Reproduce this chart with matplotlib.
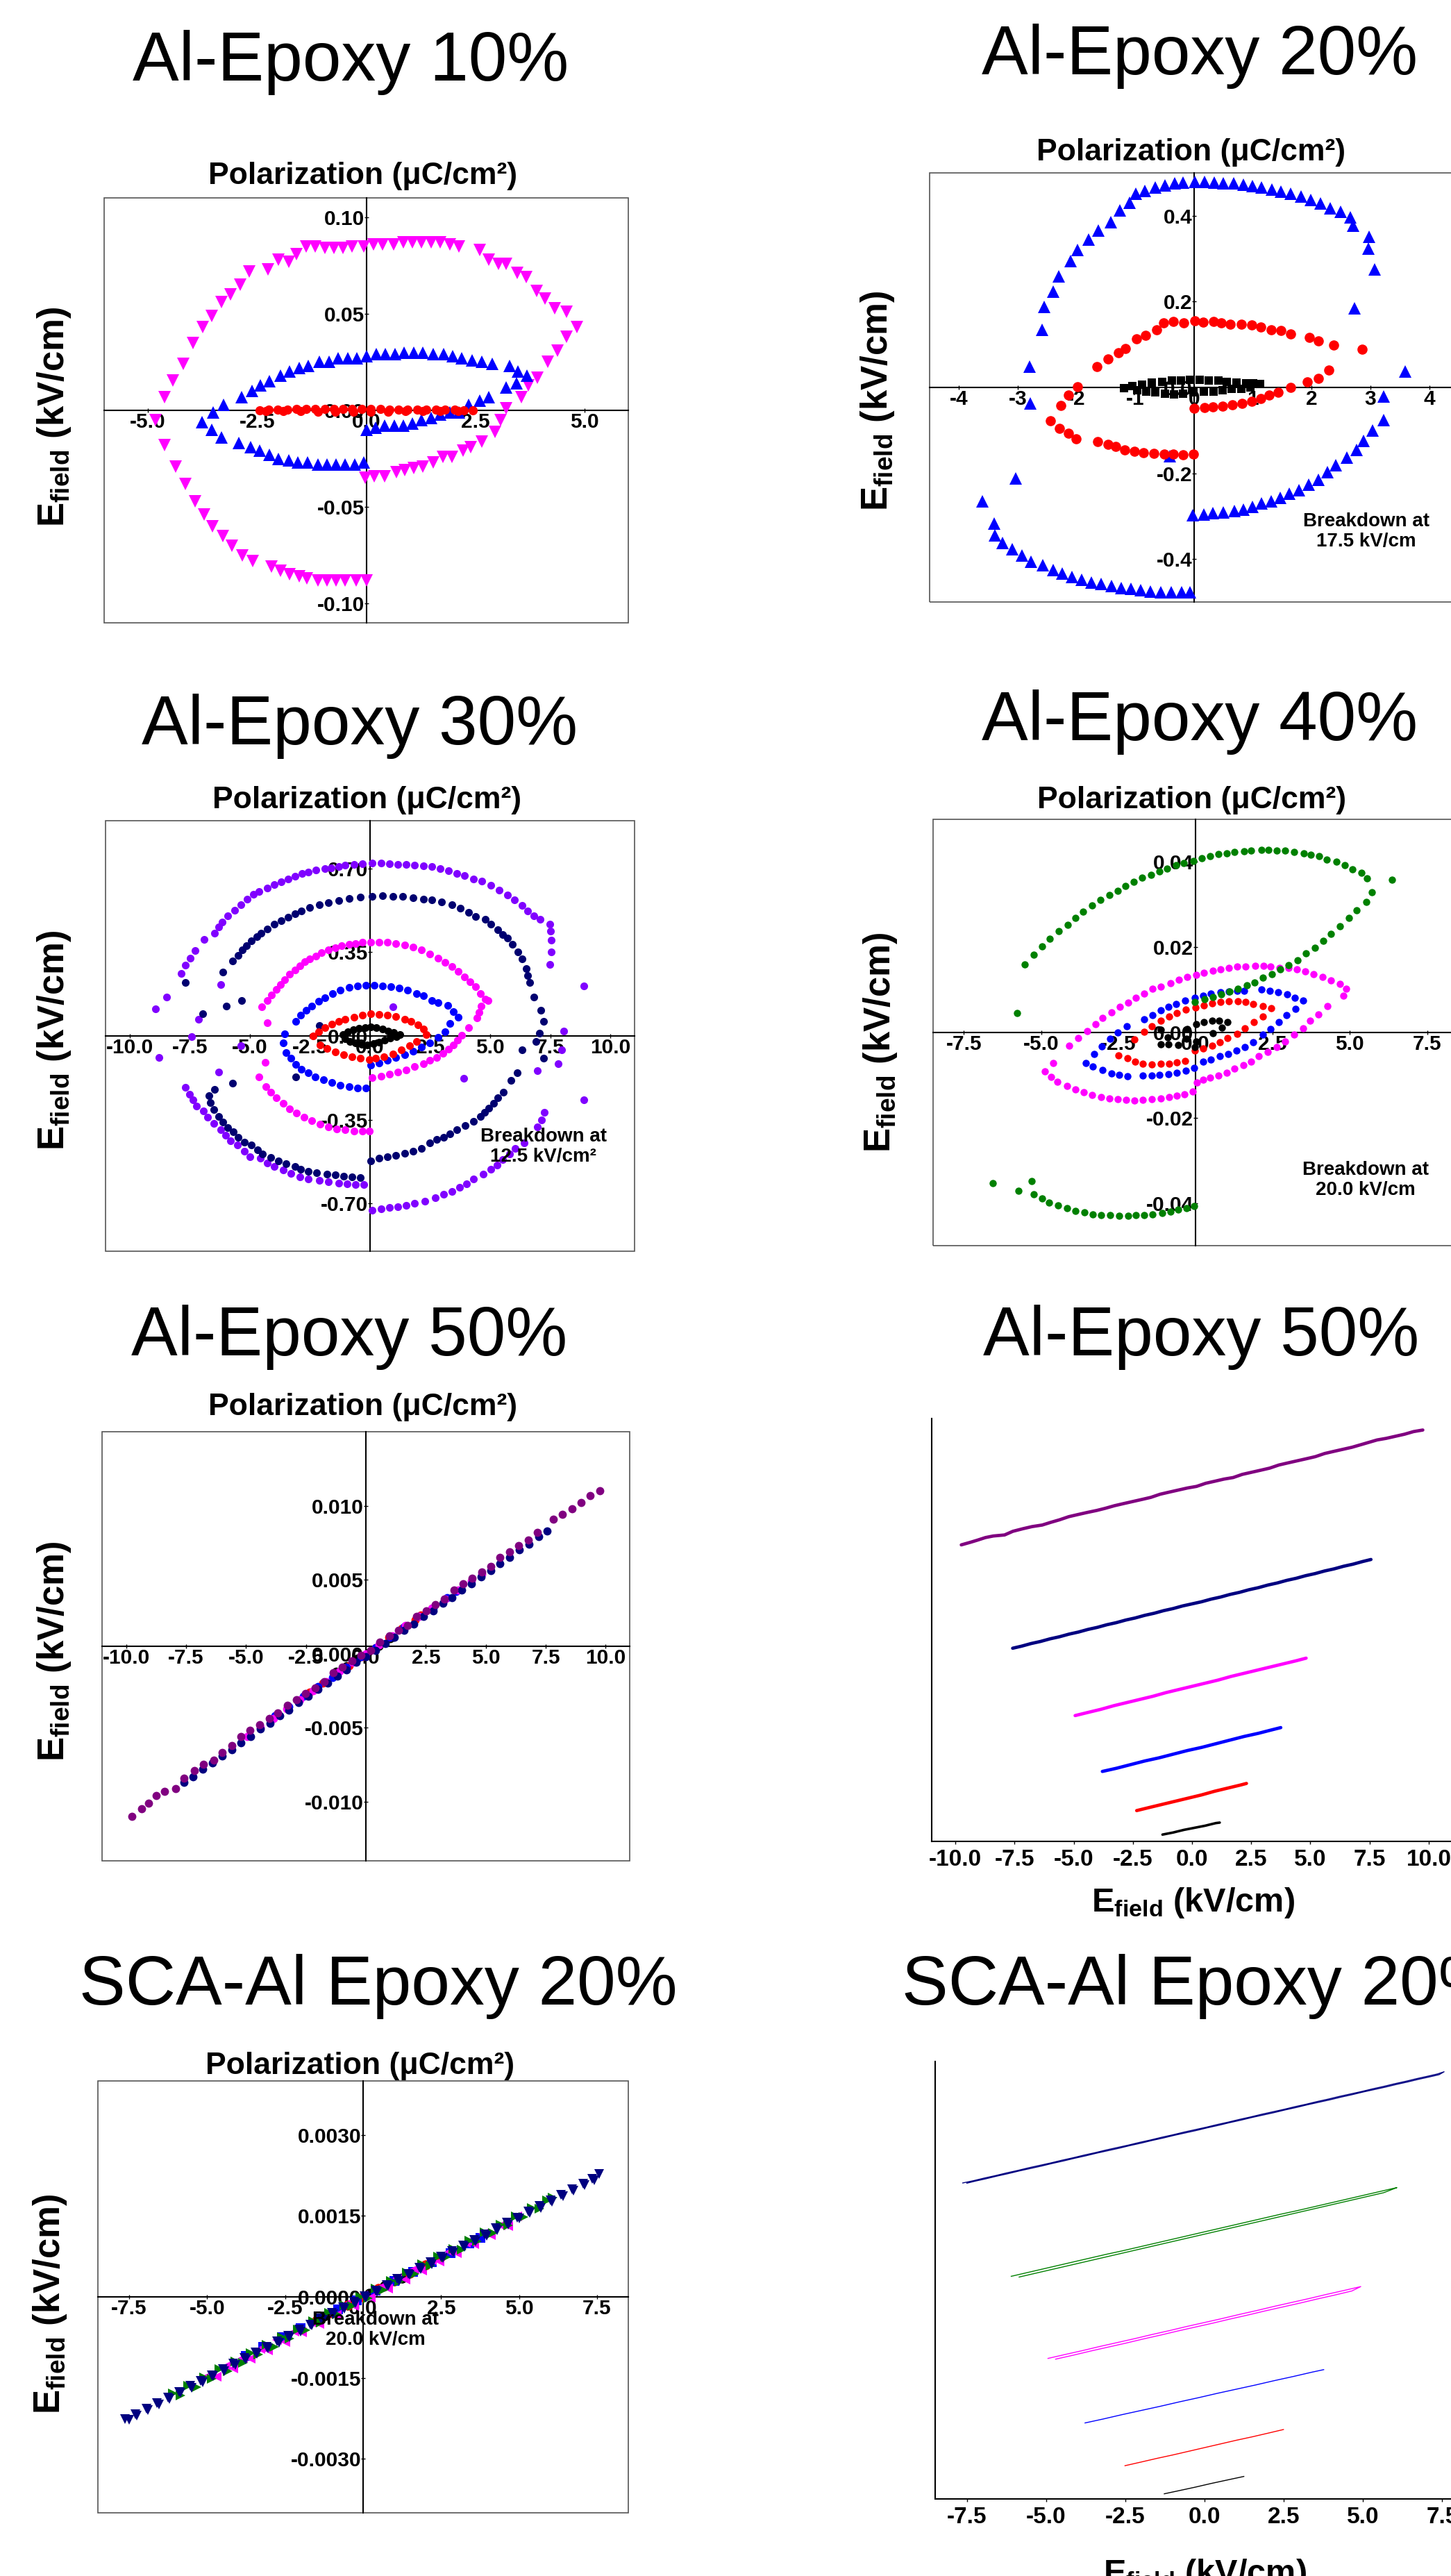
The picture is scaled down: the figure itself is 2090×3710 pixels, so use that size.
import matplotlib
matplotlib.use('Agg')
import matplotlib.pyplot as plt
from matplotlib.patches import Rectangle
from matplotlib.ticker import FormatStrFormatter

plt.rcParams['font.family'] = ['Liberation Sans', 'DejaVu Sans']
plt.rcParams['font.weight'] = 'bold'
plt.rcParams['mathtext.fontset'] = 'custom'
plt.rcParams['mathtext.rm'] = 'Liberation Sans:bold'
plt.rcParams['mathtext.bf'] = 'Liberation Sans:bold'
plt.rcParams['mathtext.it'] = 'Liberation Sans:bold:italic'
plt.rcParams['axes.unicode_minus'] = False

W, H = 2090, 3710

# ---------------- Al-Epoxy 10% ----------------
E10_magenta = [-4.82, -4.61, -4.42, -4.19, -3.97, -3.74, -3.53, -3.31, -3.10, -2.89, -2.68,
               -2.25, -2.01, -1.78, -1.59, -1.38, -1.17, -0.95, -0.74, -0.53, -0.32, -0.05,
               0.16, 0.37, 0.62, 0.85, 1.06, 1.27, 1.48, 1.70, 1.91, 2.12,
               2.60, 2.81, 3.02, 3.21, 3.45, 3.66, 3.90, 4.10, 4.32, 4.58, 4.83,
               4.58, 4.38, 4.16, 3.92, 3.71, 3.55, 3.21, 3.08, 2.95, 2.65, 2.39, 2.21, 1.96,
               1.75, 1.54, 1.29, 1.09, 0.88, 0.69, 0.42, 0.19, -0.02,
               0.0, -0.23, -0.48, -0.69, -0.90, -1.11, -1.36, -1.54, -1.75, -1.96, -2.17,
               -2.60, -2.84, -3.08, -3.29, -3.52, -3.71, -3.92, -4.14, -4.37, -4.61]
P10_magenta = [-0.005, 0.0068, 0.0153, 0.024, 0.035, 0.043, 0.049, 0.056, 0.060, 0.065, 0.072,
               0.073, 0.078, 0.077, 0.081, 0.085, 0.085, 0.084, 0.084, 0.084, 0.085, 0.085,
               0.086, 0.086, 0.086, 0.087, 0.087, 0.087, 0.087, 0.087, 0.086, 0.085,
               0.083, 0.078, 0.076, 0.076, 0.071, 0.069, 0.062, 0.058, 0.053, 0.051, 0.043,
               0.038, 0.031, 0.025, 0.017, 0.013, 0.007, 0.001, -0.005, -0.011, -0.016, -0.019, -0.021, -0.024,
               -0.024, -0.027, -0.029, -0.030, -0.031, -0.032, -0.034, -0.034, -0.035,
               -0.088, -0.088, -0.088, -0.088, -0.088, -0.088, -0.087, -0.086, -0.085, -0.083, -0.081,
               -0.078, -0.075, -0.070, -0.065, -0.060, -0.054, -0.047, -0.038, -0.029, -0.018]
E10_blue = [-3.76, -3.50, -3.26, -2.86, -2.62, -2.42, -2.22, -1.96, -1.75, -1.54,
            -1.32, -1.08, -0.85, -0.64, -0.42, -0.21, 0.0, 0.23, 0.44, 0.66,
            0.87, 1.09, 1.30, 1.54, 1.77, 1.98, 2.19, 2.42, 2.65, 2.88,
            3.28, 3.47, 3.68, 3.44, 3.20, 2.81, 2.60, 2.35, 2.12, 1.91,
            1.69, 1.48, 1.27, 1.06, 0.85, 0.64, 0.42, 0.21, 0.0,
            -0.05, -0.26, -0.48, -0.69, -0.90, -1.11, -1.35, -1.57, -1.78, -2.01,
            -2.22, -2.44, -2.65, -2.91, -3.31, -3.53]
P10_blue = [-0.006, -0.001, 0.003, 0.007, 0.010, 0.013, 0.015, 0.018, 0.020, 0.022,
            0.023, 0.025, 0.025, 0.027, 0.027, 0.027, 0.028, 0.029, 0.029, 0.029,
            0.030, 0.030, 0.030, 0.029, 0.029, 0.028, 0.027, 0.026, 0.025, 0.024,
            0.023, 0.020, 0.018, 0.014, 0.012, 0.007, 0.005, 0.003, -0.001, -0.001,
            -0.002, -0.004, -0.005, -0.007, -0.008, -0.008, -0.008, -0.009, -0.010,
            -0.027, -0.028, -0.028, -0.028, -0.028, -0.028, -0.027, -0.027, -0.026, -0.025,
            -0.023, -0.021, -0.019, -0.017, -0.014, -0.010]
E10_red = [-2.44, -2.23, -2.02, -1.80, -1.59, -1.38, -1.17, -0.95, -0.74, -0.53, -0.32, -0.11,
           0.11, 0.32, 0.53, 0.74, 0.95, 1.17, 1.38, 1.59, 1.80, 2.02, 2.23, 2.44,
           2.10, 1.70, 1.30, 0.90, 0.50, 0.10, -0.30, -0.70, -1.10, -1.50, -1.90, -2.30]
P10_red = [0.0, 0.0003, 0.0004, 0.0005, 0.0006, 0.0006, 0.0007, 0.0007, 0.0007, 0.0007, 0.0007, 0.0006,
           0.0006, 0.0006, 0.0005, 0.0005, 0.0005, 0.0004, 0.0004, 0.0003, 0.0003, 0.0002, 0.0001, 0.0,
           -0.0002, -0.0003, -0.0004, -0.0005, -0.0006, -0.0007, -0.0007, -0.0007, -0.0006, -0.0005, -0.0004, -0.0002]

# ---------------- Al-Epoxy 20% ----------------
E20_blue = [-2.80, -2.59, -2.55, -2.40, -2.30, -2.10, -1.99, -1.79, -1.63, -1.42,
            -1.26, -1.10, -0.99, -0.84, -0.66, -0.50, -0.33, -0.19, 0.01, 0.18,
            0.34, 0.50, 0.67, 0.84, 0.99, 1.15, 1.32, 1.48, 1.64, 1.82,
            1.98, 2.15, 2.31, 2.49, 2.66, 2.70, 2.98, 2.96, 3.07, 2.73,
            3.59, 3.22, 3.22, 3.04, 2.88, 2.76, 2.60, 2.41, 2.27, 2.11,
            1.95, 1.78, 1.62, 1.47, 1.31, 1.15, 0.99, 0.84, 0.68, 0.50,
            0.32, 0.16, -0.02, -0.07, -0.21, -0.39, -0.57, -0.74, -0.91, -1.08,
            -1.24, -1.41, -1.58, -1.75, -1.91, -2.08, -2.25, -2.40, -2.58, -2.77,
            -2.93, -3.09, -3.26, -3.39, -3.40, -3.60, -3.03, -0.41, -2.79]
P20_blue = [0.048, 0.135, 0.187, 0.223, 0.259, 0.294, 0.320, 0.345, 0.366, 0.385,
            0.412, 0.430, 0.452, 0.458, 0.466, 0.471, 0.476, 0.478, 0.479, 0.479,
            0.478, 0.476, 0.476, 0.473, 0.469, 0.466, 0.461, 0.457, 0.452, 0.445,
            0.437, 0.428, 0.418, 0.409, 0.397, 0.377, 0.351, 0.323, 0.275, 0.184,
            0.038, -0.021, -0.076, -0.100, -0.124, -0.145, -0.164, -0.181, -0.198, -0.215,
            -0.226, -0.239, -0.248, -0.258, -0.265, -0.271, -0.279, -0.284, -0.288, -0.291,
            -0.293, -0.296, -0.298, -0.477, -0.477, -0.477, -0.477, -0.475, -0.473, -0.470,
            -0.467, -0.463, -0.458, -0.454, -0.448, -0.441, -0.434, -0.425, -0.415, -0.406,
            -0.392, -0.377, -0.363, -0.344, -0.317, -0.265, -0.212, -0.160, -0.038]
E20_red = [-1.98, -1.65, -1.47, -1.29, -1.17, -0.98, -0.83, -0.64, -0.52, -0.35,
           -0.18, 0.01, 0.15, 0.33, 0.46, 0.62, 0.80, 0.98, 1.13, 1.31,
           1.48, 1.64, 1.96, 2.12, 2.37, 2.86, 2.29, 2.11, 1.93, 1.64,
           1.43, 1.27, 1.13, 0.98, 0.82, 0.65, 0.48, 0.32, 0.18, 0.0,
           -0.01, -0.19, -0.36, -0.51, -0.68, -0.86, -1.01, -1.18, -1.33, -1.47,
           -1.64, -2.01, -2.14, -2.29, -2.45, -2.27, -2.14]
P20_red = [0.001, 0.048, 0.067, 0.081, 0.091, 0.113, 0.121, 0.135, 0.150, 0.153,
           0.151, 0.155, 0.152, 0.154, 0.151, 0.147, 0.147, 0.145, 0.140, 0.135,
           0.133, 0.125, 0.116, 0.108, 0.099, 0.089, 0.040, 0.021, 0.013, 0.0,
           -0.012, -0.018, -0.026, -0.032, -0.037, -0.040, -0.043, -0.046, -0.047, -0.049,
           -0.156, -0.157, -0.156, -0.156, -0.154, -0.152, -0.149, -0.145, -0.138, -0.133,
           -0.126, -0.119, -0.106, -0.096, -0.077, -0.042, -0.018]
E20_black = [-1.19, -1.05, -0.89, -0.72, -0.54, -0.38, -0.22, -0.07, 0.09, 0.25,
             0.41, 0.56, 0.72, 0.88, 1.00, 1.12, 0.96, 0.80, 0.64, 0.48,
             0.33, 0.17, -0.01, -0.19, -0.34, -0.50, -0.66, -0.82, -0.97]
P20_black = [-0.002, 0.004, 0.006, 0.011, 0.013, 0.016, 0.016, 0.017, 0.017, 0.016,
             0.016, 0.013, 0.011, 0.009, 0.009, 0.008, 0.0, -0.003, -0.004, -0.007,
             -0.009, -0.010, -0.012, -0.015, -0.016, -0.015, -0.012, -0.010, -0.007]

# ---------------- Al-Epoxy 30% ----------------
E30_purple = [-8.92, -8.47, -7.84, -7.67, -7.49, -7.28, -6.90, -6.46, -6.29, -6.15,
              -5.91, -5.63, -5.38, -5.10, -4.85, -4.61, -4.26, -3.97, -3.69, -3.41,
              -3.13, -2.82, -2.57, -2.26, -1.87, -1.62, -1.31, -1.03, -0.67, -0.32,
              0.10, 0.45, 0.80, 1.15, 1.50, 1.85, 2.21, 2.56, 2.91, 3.26,
              3.61, 3.92, 4.31, 4.66, 5.01, 5.37, 5.72, 6.00, 6.31, 6.56,
              6.82, 7.08, 7.47, 7.51, 7.54, 7.54, 7.47, 8.88, 8.05, 7.96,
              7.82, 6.95, 8.88, 7.26, 7.12, 6.95, 6.42, 6.04, 5.79, 5.51,
              5.27, 5.01, 4.71, 4.31, 4.00, 3.72, 3.40, 3.05, 2.70, 2.28,
              1.85, 1.50, 1.15, 0.80, 0.45, 0.10, -0.25, -0.60, -0.96, -1.31,
              -1.73, -2.12, -2.57, -2.92, -3.30, -3.62, -3.97, -4.28, -4.56, -4.99,
              -5.24, -5.52, -5.80, -6.01, -6.22, -6.50, -6.76, -6.92, -7.23, -7.37,
              -7.51, -7.67, -6.29, -8.79, -7.42, -7.13, -6.22, 0.94, 3.89, -5.38]
P30_purple = [0.113, 0.163, 0.262, 0.295, 0.325, 0.356, 0.405, 0.431, 0.457, 0.477,
              0.502, 0.525, 0.548, 0.571, 0.591, 0.603, 0.617, 0.632, 0.644, 0.655,
              0.667, 0.678, 0.686, 0.695, 0.699, 0.703, 0.707, 0.713, 0.718, 0.721,
              0.722, 0.722, 0.721, 0.718, 0.716, 0.715, 0.710, 0.709, 0.701, 0.692,
              0.680, 0.670, 0.655, 0.646, 0.629, 0.609, 0.589, 0.569, 0.546, 0.523,
              0.502, 0.489, 0.466, 0.439, 0.400, 0.351, 0.299, 0.209, 0.020, -0.057,
              -0.115, -0.146, -0.267, -0.320, -0.351, -0.379, -0.448, -0.471, -0.494, -0.517,
              -0.540, -0.557, -0.577, -0.598, -0.618, -0.632, -0.649, -0.661, -0.676, -0.690,
              -0.699, -0.707, -0.713, -0.718, -0.724, -0.730, -0.621, -0.621, -0.618, -0.615,
              -0.611, -0.603, -0.598, -0.589, -0.575, -0.561, -0.546, -0.532, -0.511, -0.506,
              -0.483, -0.457, -0.437, -0.414, -0.391, -0.366, -0.339, -0.314, -0.293, -0.268,
              -0.244, -0.215, -0.152, -0.089, -0.002, 0.071, 0.216, 0.121, -0.178, -0.040]
E30_navy = [-7.67, -6.97, -6.11, -5.73, -5.49, -5.31, -5.13, -4.93, -4.72, -4.54,
            -4.28, -3.97, -3.69, -3.41, -3.13, -2.85, -2.50, -2.12, -1.73, -1.31,
            -0.88, -0.39, 0.10, 0.52, 0.94, 1.36, 1.78, 2.21, 2.56, 2.98,
            3.40, 3.75, 4.10, 4.38, 4.78, 5.01, 5.30, 5.51, 5.72, 5.93,
            6.14, 6.31, 6.49, 6.56, 6.63, 6.81, 7.09, 7.23, 7.05, 6.91,
            6.31, 7.23, 6.11, 5.86, 5.55, 5.32, 5.13, 4.94, 4.76, 4.59,
            4.31, 3.96, 3.61, 3.33, 3.05, 2.77, 2.49, 2.13, 1.78, 1.43,
            1.08, 0.73, 0.38, 0.03, -0.39, -0.74, -1.10, -1.45, -1.80, -2.22,
            -2.57, -2.88, -3.13, -3.48, -3.81, -4.12, -4.47, -4.68, -4.93, -5.24,
            -5.49, -5.69, -5.91, -6.11, -6.29, -6.50, -6.64, -6.69, -6.47, -5.73,
            -3.09, -2.12, -5.97, -5.34]
P30_navy = [0.224, 0.094, 0.267, 0.313, 0.336, 0.359, 0.377, 0.397, 0.414, 0.431,
            0.446, 0.466, 0.483, 0.497, 0.511, 0.523, 0.537, 0.548, 0.557, 0.567,
            0.575, 0.580, 0.584, 0.586, 0.584, 0.583, 0.578, 0.572, 0.569, 0.561,
            0.549, 0.534, 0.517, 0.500, 0.489, 0.466, 0.445, 0.425, 0.408, 0.382,
            0.351, 0.322, 0.282, 0.253, 0.224, 0.164, 0.106, 0.060, 0.011, -0.023,
            -0.057, -0.092, -0.155, -0.186, -0.236, -0.259, -0.282, -0.302, -0.320, -0.337,
            -0.356, -0.374, -0.391, -0.408, -0.423, -0.434, -0.448, -0.471, -0.483, -0.491,
            -0.498, -0.506, -0.511, -0.523, -0.592, -0.590, -0.586, -0.580, -0.577, -0.572,
            -0.566, -0.557, -0.546, -0.534, -0.523, -0.508, -0.494, -0.477, -0.457, -0.443,
            -0.423, -0.402, -0.383, -0.360, -0.337, -0.308, -0.278, -0.251, -0.224, -0.198,
            -0.172, 0.043, 0.124, 0.149]
E30_magenta = [-4.49, -4.26, -4.28, -4.09, -3.90, -3.72, -3.55, -3.34, -3.13, -2.92,
               -2.71, -2.50, -2.26, -2.01, -1.73, -1.45, -1.17, -0.88, -0.60, -0.32,
               0.03, 0.38, 0.73, 1.08, 1.43, 1.78, 2.13, 2.49, 2.84, 3.12,
               3.40, 3.68, 3.92, 4.17, 4.38, 4.59, 4.78, 4.92, 4.62, 4.52,
               4.45, 4.10, 3.82, 3.64, 3.47, 3.26, 3.02, 2.77, 2.49, 2.21,
               1.85, 1.50, 1.15, 0.80, 0.45, 0.10, -0.04, -0.32, -0.67, -1.03,
               -1.38, -1.73, -2.08, -2.43, -2.74, -3.06, -3.34, -3.62, -3.90, -4.12,
               -4.33, -4.61, -4.37]
P30_magenta = [0.121, 0.054, 0.147, 0.172, 0.195, 0.215, 0.236, 0.259, 0.276, 0.293,
               0.310, 0.322, 0.333, 0.347, 0.359, 0.368, 0.377, 0.383, 0.387, 0.391,
               0.393, 0.393, 0.391, 0.387, 0.379, 0.371, 0.359, 0.343, 0.325, 0.307,
               0.290, 0.270, 0.247, 0.226, 0.207, 0.178, 0.155, 0.149, 0.124, 0.098,
               0.075, 0.034, 0.002, -0.017, -0.037, -0.055, -0.072, -0.090, -0.103, -0.115,
               -0.129, -0.141, -0.152, -0.161, -0.167, -0.175, -0.397, -0.397, -0.397, -0.393,
               -0.389, -0.379, -0.368, -0.354, -0.339, -0.322, -0.305, -0.282, -0.259, -0.236,
               -0.213, -0.170, -0.111]
E30_blue = [-3.55, -3.09, -2.88, -2.67, -2.43, -2.15, -1.87, -1.56, -1.24, -0.88,
            -0.53, -0.18, 0.17, 0.52, 0.87, 1.22, 1.57, 1.92, 2.23, 2.56,
            2.84, 3.22, 3.47, 3.68, 3.33, 3.12, 2.84, 2.49, 2.13, 1.78,
            1.43, 1.08, 0.73, 0.38, 0.03, -0.18, -0.53, -0.88, -1.24, -1.59,
            -1.94, -2.29, -2.57, -2.85, -3.09, -3.30, -3.48, -3.62]
P30_blue = [0.009, 0.061, 0.086, 0.106, 0.126, 0.144, 0.161, 0.178, 0.193, 0.203,
            0.210, 0.213, 0.213, 0.210, 0.207, 0.201, 0.192, 0.178, 0.167, 0.149,
            0.138, 0.129, 0.103, 0.078, 0.052, 0.017, -0.006, -0.029, -0.046, -0.063,
            -0.078, -0.090, -0.101, -0.113, -0.121, -0.218, -0.218, -0.213, -0.205, -0.195,
            -0.184, -0.170, -0.155, -0.138, -0.118, -0.094, -0.069, -0.029]
E30_red = [-2.36, -2.15, -1.87, -1.59, -1.31, -1.03, -0.67, -0.32, 0.03, 0.38,
           0.73, 1.08, 1.43, 1.71, 2.00, 2.21, 2.35, 1.92, 1.64, 1.29,
           0.94, 0.59, 0.24, -0.04, -0.39, -0.74, -1.10, -1.45, -1.80, -2.08]
P30_red = [0.0, 0.017, 0.034, 0.048, 0.060, 0.069, 0.078, 0.086, 0.092, 0.090,
           0.086, 0.080, 0.071, 0.060, 0.046, 0.029, 0.006, -0.023, -0.040, -0.057,
           -0.075, -0.086, -0.094, -0.098, -0.092, -0.086, -0.078, -0.067, -0.052, -0.037]
E30_black = [-1.13, -0.93, -0.69, -0.45, -0.21, 0.03, 0.27, 0.51, 0.75, 0.99, 1.23,
             1.09, 0.85, 0.61, 0.37, 0.13, -0.12, -0.36, -0.60, -0.84, -1.03]
P30_black = [0.007, 0.016, 0.026, 0.031, 0.036, 0.039, 0.036, 0.029, 0.021, 0.014, 0.007,
             -0.003, -0.010, -0.017, -0.025, -0.032, -0.037, -0.035, -0.029, -0.022, -0.013]

# ---------------- Al-Epoxy 40% ----------------
E40_green = [-5.54, -5.25, -4.98, -4.72, -4.42, -4.13, -3.90, -3.64, -3.35, -3.07,
             -2.79, -2.52, -2.26, -2.01, -1.74, -1.45, -1.18, -0.92, -0.64, -0.39,
             -0.06, 0.21, 0.48, 0.74, 1.01, 1.27, 1.57, 1.81, 2.13, 2.37,
             2.64, 2.91, 3.20, 3.50, 3.74, 4.00, 4.25, 4.57, 4.84, 5.08,
             5.37, 5.56, 6.36, 5.72, 5.53, 5.21, 4.97, 4.67, 4.39, 4.14,
             3.87, 3.58, 3.30, 3.02, 2.75, 2.48, 2.18, 1.91, 1.66, 1.38,
             1.11, 0.84, 0.56, 0.29, -0.03, -5.78, -6.56, -5.73, -5.30, -5.24,
             -4.98, -4.74, -4.45, -4.17, -3.88, -3.59, -3.33, -3.05, -2.76, -2.47,
             -2.19, -1.94, -1.66, -1.40, -1.07, -0.81, -0.57, -0.30, -0.05]
P40_green = [0.0159, 0.0182, 0.0202, 0.0220, 0.0237, 0.0253, 0.0269, 0.0284, 0.0298, 0.0311,
             0.0322, 0.0333, 0.0344, 0.0353, 0.0363, 0.0370, 0.0378, 0.0385, 0.0392, 0.0398,
             0.0403, 0.0408, 0.0414, 0.0418, 0.0421, 0.0423, 0.0425, 0.0427, 0.0429, 0.0429,
             0.0427, 0.0427, 0.0424, 0.0421, 0.0417, 0.0413, 0.0406, 0.0401, 0.0392, 0.0383,
             0.0374, 0.0362, 0.0358, 0.0329, 0.0307, 0.0287, 0.0268, 0.0249, 0.0231, 0.0215,
             0.0199, 0.0185, 0.0170, 0.0158, 0.0148, 0.0136, 0.0128, 0.0117, 0.0110, 0.0102,
             0.0096, 0.0089, 0.0083, 0.0078, 0.0071, 0.0046, -0.0353, -0.0372, -0.0349, -0.0379,
             -0.0389, -0.0399, -0.0406, -0.0412, -0.0418, -0.0422, -0.0426, -0.0428, -0.0429, -0.0430,
             -0.0430, -0.0429, -0.0428, -0.0426, -0.0424, -0.0420, -0.0416, -0.0412, -0.0407]
E40_magenta = [-4.88, -4.61, -4.10, -3.80, -3.51, -3.24, -3.01, -2.71, -2.44, -2.19,
               -1.93, -1.67, -1.40, -1.12, -0.81, -0.55, -0.27, 0.02, 0.27, 0.56,
               0.82, 1.09, 1.36, 1.63, 1.93, 2.21, 2.43, 2.73, 3.02, 3.28,
               3.55, 3.82, 4.11, 4.39, 4.67, 4.89, 4.78, 4.28, 3.98, 3.71,
               3.48, 3.20, 2.91, 2.64, 2.34, 2.05, 1.81, 1.55, 1.27, 1.02,
               0.74, 0.48, 0.24, 0.04, -0.09, -0.35, -0.60, -0.86, -1.13, -1.42,
               -1.71, -1.98, -2.25, -2.51, -2.78, -3.06, -3.35, -3.61, -3.88, -4.15,
               -4.47, -4.68]
P40_magenta = [-0.0091, -0.0071, -0.0031, -0.0013, 0.0004, 0.0020, 0.0034, 0.0047, 0.0060, 0.0070,
               0.0081, 0.0092, 0.0102, 0.0108, 0.0116, 0.0124, 0.0130, 0.0135, 0.0140, 0.0145,
               0.0149, 0.0152, 0.0154, 0.0154, 0.0156, 0.0156, 0.0154, 0.0152, 0.0151, 0.0148,
               0.0143, 0.0137, 0.0130, 0.0122, 0.0114, 0.0102, 0.0086, 0.0062, 0.0043, 0.0027,
               0.0010, -0.0005, -0.0021, -0.0034, -0.0045, -0.0056, -0.0068, -0.0077, -0.0085, -0.0094,
               -0.0101, -0.0106, -0.0110, -0.0117, -0.0139, -0.0145, -0.0149, -0.0152, -0.0155, -0.0156,
               -0.0158, -0.0159, -0.0158, -0.0156, -0.0155, -0.0152, -0.0147, -0.0140, -0.0133, -0.0125,
               -0.0115, -0.0105]
E40_blue = [-3.56, -3.29, -3.03, -2.76, -2.51, -2.22, -1.66, -1.40, -1.13, -0.87,
            -0.62, -0.33, -0.03, 0.24, 0.50, 0.80, 1.09, 1.34, 1.57, 2.13,
            2.40, 2.67, 2.96, 3.21, 3.48, 3.23, 2.94, 2.70, 2.43, 2.18,
            1.87, 1.59, 1.33, 1.06, 0.78, 0.50, 0.24, -0.05, -0.32, -0.60,
            -0.87, -1.16, -1.42, -1.72, -2.20, -2.47, -2.73, -3.01, -3.32]
P40_blue = [-0.0071, -0.0051, -0.0032, -0.0015, 0.0000, 0.0014, 0.0031, 0.0041, 0.0052, 0.0060,
            0.0067, 0.0075, 0.0081, 0.0087, 0.0091, 0.0094, 0.0096, 0.0097, 0.0097, 0.0101,
            0.0098, 0.0094, 0.0089, 0.0081, 0.0075, 0.0055, 0.0040, 0.0024, 0.0008, -0.0005,
            -0.0023, -0.0034, -0.0042, -0.0050, -0.0056, -0.0063, -0.0069, -0.0083, -0.0089, -0.0094,
            -0.0098, -0.0099, -0.0101, -0.0101, -0.0103, -0.0099, -0.0096, -0.0088, -0.0080]
E40_red = [-1.98, -1.67, -1.42, -1.12, -0.86, -0.60, -0.32, 0.00, 0.27, 0.53,
           0.82, 1.09, 1.38, 1.63, 1.86, 2.18, 2.45, 2.18, 1.89, 1.59,
           1.34, 1.04, 0.78, 0.53, 0.24, -0.03, -0.33, -0.60, -0.86, -1.13,
           -1.42, -1.71, -1.96, -2.20, -2.49]
P40_red = [-0.0017, 0.0001, 0.0014, 0.0027, 0.0038, 0.0046, 0.0054, 0.0059, 0.0064, 0.0068,
           0.0071, 0.0073, 0.0073, 0.0071, 0.0067, 0.0062, 0.0057, 0.0038, 0.0024, 0.0009,
           -0.0003, -0.0013, -0.0023, -0.0031, -0.0037, -0.0043, -0.0066, -0.0070, -0.0073, -0.0074,
           -0.0075, -0.0073, -0.0069, -0.0061, -0.0053]
E40_black = [-1.12, -0.89, -0.87, -1.12, -0.57, -0.30, -0.27, 0.02, 0.27, 0.53, 0.77, 1.04, 0.86, 0.56, 0.02, -0.03]
P40_black = [0.0006, -0.0011, -0.0027, -0.0027, -0.0029, -0.0015, 0.0008, 0.0020, 0.0025, 0.0028,
             0.0027, 0.0025, 0.0011, -0.0002, -0.0021, -0.0034]

# ---------------- Al-Epoxy 50% (scatter + stacked traces) ----------------
E50_purple = [-9.75, -9.36, -9.07, -8.73, -8.40, -7.92, -7.57, -7.14, -6.76, -6.33,
              -5.98, -5.60, -5.21, -4.83, -4.44, -4.02, -3.67, -3.28, -2.90, -2.51,
              -2.12, -1.74, -1.35, -0.97, -0.58, -0.19, 0.19, 0.58, 0.97, 1.35,
              1.74, 2.12, 2.51, 2.90, 3.28, 3.67, 4.05, 4.44, 4.83, 5.21,
              5.60, 5.98, 6.37, 6.76, 7.14, 7.82, 8.20, 8.59, 8.98, 9.36, 9.75]
P50_purple = [-0.0110, -0.0105, -0.0101, -0.0096, -0.0093, -0.0091, -0.0084, -0.0079, -0.0075, -0.0072,
              -0.0067, -0.0062, -0.0056, -0.0052, -0.0048, -0.0044, -0.0040, -0.0035, -0.0031, -0.0027,
              -0.0023, -0.0019, -0.0013, -0.0009, -0.0005, -0.0001, 0.0002, 0.0008, 0.0012, 0.0016,
              0.0019, 0.0025, 0.0029, 0.0033, 0.0037, 0.0043, 0.0047, 0.0051, 0.0055, 0.0059,
              0.0065, 0.0069, 0.0073, 0.0077, 0.0082, 0.0091, 0.0094, 0.0098, 0.0102, 0.0107, 0.0110]
E50_navy = [-7.58, -7.20, -6.80, -6.40, -6.00, -5.60, -5.20, -4.80, -4.40, -4.00,
            -3.60, -3.20, -2.80, -2.40, -2.00, -1.60, -1.20, -0.80, -0.40, 0.00,
            0.40, 0.80, 1.20, 1.60, 2.00, 2.40, 2.80, 3.20, 3.60, 4.00,
            4.40, 4.80, 5.20, 5.60, 6.00, 6.40, 6.80, 7.20, 7.56]
P50_navy = [-0.0087, -0.0083, -0.0078, -0.0074, -0.0069, -0.0065, -0.0060, -0.0056, -0.0051, -0.0047,
            -0.0042, -0.0038, -0.0033, -0.0029, -0.0024, -0.0020, -0.0015, -0.0011, -0.0006, -0.0002,
            0.0002, 0.0007, 0.0011, 0.0016, 0.0020, 0.0025, 0.0029, 0.0034, 0.0038, 0.0043,
            0.0047, 0.0052, 0.0056, 0.0061, 0.0065, 0.0070, 0.0074, 0.0079, 0.0083]
E50_magenta = [-4.94, -4.40, -3.85, -3.30, -2.75, -2.20, -1.65, -1.10, -0.55, 0.00,
               0.55, 1.10, 1.65, 2.20, 2.75, 3.30, 3.85, 4.40, 4.82]
P50_magenta = [-0.0056, -0.0050, -0.0044, -0.0037, -0.0031, -0.0025, -0.0019, -0.0012, -0.0006, 0.0000,
               0.0006, 0.0012, 0.0019, 0.0025, 0.0031, 0.0037, 0.0043, 0.0049, 0.0054]
E50_blue = [-3.79, -3.20, -2.60, -2.00, -1.40, -0.80, -0.20, 0.40, 1.00, 1.60, 2.20, 2.80, 3.40, 3.75]
P50_blue = [-0.0042, -0.0036, -0.0029, -0.0022, -0.0016, -0.0009, -0.0002, 0.0004, 0.0011, 0.0018,
            0.0025, 0.0031, 0.0038, 0.0042]
E50_red = [-2.34, -1.80, -1.25, -0.70, -0.15, 0.40, 0.95, 1.50, 2.05, 2.30]
P50_red = [-0.0026, -0.0020, -0.0014, -0.0008, -0.0002, 0.0004, 0.0011, 0.0017, 0.0023, 0.0026]
E50_black = [-1.25, -0.80, -0.35, 0.10, 0.55, 1.00, 1.17]
P50_black = [-0.0012, -0.0008, -0.0003, 0.0001, 0.0005, 0.0010, 0.0011]
# vertical offsets used to stack the 50% traces
OFF50 = {'black': 0.0025, 'red': 0.0085, 'blue': 0.0176,
         'magenta': 0.0297, 'navy': 0.0457, 'purple': 0.0678}

# ---------------- SCA-Al Epoxy 20% (scatter + stacked traces) ----------------
Esca_navy = [-7.63, -7.30, -6.95, -6.60, -6.25, -5.90, -5.55, -5.20, -4.85, -4.50,
             -4.15, -3.80, -3.45, -3.10, -2.75, -2.40, -2.05, -1.70, -1.35, -1.00,
             -0.65, -0.30, 0.05, 0.40, 0.75, 1.10, 1.45, 1.80, 2.15, 2.50,
             2.85, 3.20, 3.55, 3.90, 4.25, 4.60, 4.95, 5.30, 5.65, 6.00,
             6.35, 6.70, 7.05, 7.35, 7.56,
             7.40, 7.10, 6.75, 6.40, 6.05, 5.70, 5.35, 5.00, 4.65, 4.30,
             3.95, 3.60, 3.25, 2.90, 2.55, 2.20, 1.85, 1.50, 1.15, 0.80,
             0.45, 0.10, -0.25, -0.60, -0.95, -1.30, -1.65, -2.00, -2.35, -2.70,
             -3.05, -3.40, -3.75, -4.10, -4.45, -4.80, -5.15, -5.50, -5.85, -6.20,
             -6.55, -6.90, -7.25, -7.50]
Psca_navy = [-0.00227, -0.00218, -0.00207, -0.00197, -0.00186, -0.00176, -0.00165, -0.00155, -0.00145, -0.00134,
             -0.00124, -0.00113, -0.00103, -0.00092, -0.00082, -0.00072, -0.00061, -0.00051, -0.00040, -0.00030,
             -0.00019, -0.00009, 0.00001, 0.00012, 0.00022, 0.00033, 0.00043, 0.00054, 0.00064, 0.00074,
             0.00085, 0.00095, 0.00106, 0.00116, 0.00127, 0.00137, 0.00147, 0.00158, 0.00168, 0.00179,
             0.00189, 0.00200, 0.00210, 0.00219, 0.00228,
             0.00216, 0.00207, 0.00197, 0.00186, 0.00176, 0.00165, 0.00155, 0.00145, 0.00134, 0.00124,
             0.00113, 0.00103, 0.00093, 0.00082, 0.00072, 0.00061, 0.00051, 0.00041, 0.00030, 0.00020,
             0.00009, -0.00001, -0.00012, -0.00022, -0.00032, -0.00043, -0.00053, -0.00064, -0.00074, -0.00085,
             -0.00095, -0.00105, -0.00116, -0.00126, -0.00137, -0.00147, -0.00158, -0.00168, -0.00178, -0.00189,
             -0.00199, -0.00210, -0.00220, -0.00228]
Esca_green = [-6.10, -5.60, -5.10, -4.60, -4.10, -3.60, -3.10, -2.60, -2.10, -1.60,
              -1.10, -0.60, -0.10, 0.40, 0.90, 1.40, 1.90, 2.40, 2.90, 3.40,
              3.90, 4.40, 4.90, 5.40, 5.90, 6.07,
              5.65, 5.15, 4.65, 4.15, 3.65, 3.15, 2.65, 2.15, 1.65, 1.15,
              0.65, 0.15, -0.35, -0.85, -1.35, -1.85, -2.35, -2.85, -3.35, -3.85,
              -4.35, -4.85, -5.35, -5.85]
Psca_green = [-0.00179, -0.00164, -0.00149, -0.00134, -0.00119, -0.00104, -0.00089, -0.00075, -0.00060, -0.00045,
              -0.00030, -0.00015, 0.00000, 0.00015, 0.00030, 0.00045, 0.00060, 0.00075, 0.00089, 0.00104,
              0.00119, 0.00134, 0.00149, 0.00164, 0.00179, 0.00184,
              0.00163, 0.00148, 0.00133, 0.00118, 0.00103, 0.00088, 0.00073, 0.00058, 0.00043, 0.00028,
              0.00013, -0.00002, -0.00017, -0.00032, -0.00047, -0.00062, -0.00077, -0.00092, -0.00107, -0.00122,
              -0.00137, -0.00152, -0.00167, -0.00182]
Esca_magenta = [-4.94, -4.40, -3.85, -3.30, -2.75, -2.20, -1.65, -1.10, -0.55, 0.00,
                0.55, 1.10, 1.65, 2.20, 2.75, 3.30, 3.85, 4.40, 4.93,
                4.65, 4.10, 3.55, 3.00, 2.45, 1.90, 1.35, 0.80, 0.25, -0.30,
                -0.85, -1.40, -1.95, -2.50, -3.05, -3.60, -4.15, -4.70]
Psca_magenta = [-0.00145, -0.00129, -0.00113, -0.00096, -0.00080, -0.00064, -0.00047, -0.00031, -0.00014, 0.00002,
                0.00018, 0.00035, 0.00051, 0.00068, 0.00084, 0.00100, 0.00117, 0.00133, 0.00149,
                0.00131, 0.00114, 0.00098, 0.00081, 0.00065, 0.00049, 0.00032, 0.00016, -0.00001, -0.00017,
                -0.00033, -0.00050, -0.00066, -0.00083, -0.00099, -0.00115, -0.00132, -0.00148]
Esca_blue = [-3.77, -3.20, -2.60, -2.00, -1.40, -0.80, -0.20, 0.40, 1.00, 1.60, 2.20, 2.80, 3.40, 3.76]
Psca_blue = [-0.00109, -0.00093, -0.00075, -0.00058, -0.00041, -0.00023, -0.00006, 0.00012, 0.00029, 0.00046,
             0.00064, 0.00081, 0.00099, 0.00109]
Esca_red = [-2.51, -2.00, -1.50, -1.00, -0.50, 0.00, 0.50, 1.00, 1.50, 2.00, 2.49]
Psca_red = [-0.00074, -0.00059, -0.00044, -0.00030, -0.00015, 0.00000, 0.00015, 0.00030, 0.00044, 0.00059, 0.00074]
Esca_black = [-1.27, -0.80, -0.30, 0.20, 0.70, 1.24]
Psca_black = [-0.00036, -0.00023, -0.00009, 0.00006, 0.00020, 0.00035]
OFFSCA = {'black': 0.00057, 'red': 0.0021, 'blue': 0.0042,
          'magenta': 0.0072, 'green': 0.0109, 'navy': 0.0152}

C_MAGENTA = '#FF00FF'
C_BLUE = '#0000FF'
C_RED = '#FF0000'
C_BLACK = '#000000'
C_NAVY = '#000080'
C_VIOLET = '#8000FF'
C_PURPLE = '#800080'
C_GREEN = '#008000'

EFIELD = r'$\mathbf{E_{field}}$ (kV/cm)'
POLAR = 'Polarization (\u03bcC/cm\u00b2)'

fig = plt.figure(figsize=(W / 100, H / 100), dpi=100)
fig.patch.set_facecolor('white')


def fx(x):
    return x / W


def fy(y):
    return 1 - y / H


def add_axes_px(x0, y0, x1, y1):
    return fig.add_axes([x0 / W, 1 - y1 / H, (x1 - x0) / W, (y1 - y0) / H])


def title(x, y, s):
    fig.text(fx(x), fy(y), s, ha='center', va='baseline', fontsize=72, fontweight='normal')


def pol_label(x, y):
    fig.text(fx(x), fy(y), POLAR, ha='center', va='baseline', fontsize=32, fontweight='bold')


def y_label(x, y):
    fig.text(fx(x), fy(y), EFIELD, rotation=90, ha='center', va='center',
             fontsize=38, fontweight='bold')


def breakdown(x, y, s):
    fig.text(fx(x), fy(y), s, ha='center', va='center', fontsize=20,
             fontweight='bold', linespacing=1.15, zorder=10)


def loop_axes(box, xlim, ylim, xticks, yticks, xfmt, yfmt, xaxis_at=0.0):
    ax = add_axes_px(*box)
    ax.set_xlim(xlim)
    ax.set_ylim(ylim)
    ax.spines['top'].set_visible(False)
    ax.spines['right'].set_visible(False)
    ax.spines['left'].set_position(('data', 0))
    ax.spines['bottom'].set_position(('data', xaxis_at))
    for side in ('left', 'bottom'):
        ax.spines[side].set_linewidth(1.5)
    ax.add_patch(Rectangle((0, 0), 1, 1, transform=ax.transAxes, fill=False,
                           edgecolor='#555555', lw=1.2, clip_on=False, zorder=0))
    ax.set_xticks(xticks)
    ax.set_yticks(yticks)
    ax.xaxis.set_major_formatter(FormatStrFormatter(xfmt))
    ax.yaxis.set_major_formatter(FormatStrFormatter(yfmt))
    ax.tick_params(direction='inout', length=4, width=1, labelsize=21.5)
    ax.tick_params(axis='x', pad=0.5)
    ax.tick_params(axis='y', pad=0)
    return ax


def trace_axes(box, xlim, ylim, xticks):
    ax = add_axes_px(*box)
    ax.set_xlim(xlim)
    ax.set_ylim(ylim)
    ax.spines['top'].set_visible(False)
    ax.spines['right'].set_visible(False)
    for side in ('left', 'bottom'):
        ax.spines[side].set_linewidth(1.5)
    ax.set_yticks([])
    ax.set_xticks(xticks)
    ax.xaxis.set_major_formatter(FormatStrFormatter('%.1f'))
    ax.tick_params(axis='x', direction='out', length=3, width=1, labelsize=24, pad=5)
    return ax


def dots(ax, E, P, color, marker='o', ms=7):
    ax.plot(E, P, ls='none', marker=marker, ms=ms, color=color, mew=0, zorder=3, clip_on=False)


xt25_10 = [-10.0, -7.5, -5.0, -2.5, 0.0, 2.5, 5.0, 7.5, 10.0]
xt25_75 = [-7.5, -5.0, -2.5, 0.0, 2.5, 5.0, 7.5]

# ---- panel: Al-Epoxy 10%
title(505, 116, 'Al-Epoxy 10%')
pol_label(523, 265)
y_label(78, 600)
ax = loop_axes((150, 285, 905, 897), (-6, 6), (-0.11, 0.11),
               [-5.0, -2.5, 0.0, 2.5, 5.0], [-0.10, -0.05, 0.0, 0.05, 0.10], '%.1f', '%.2f')
dots(ax, E10_magenta, P10_magenta, C_MAGENTA, 'v', 13)
dots(ax, E10_blue, P10_blue, C_BLUE, '^', 13)
dots(ax, E10_red, P10_red, C_RED, 'o', 9.5)

# ---- panel: Al-Epoxy 20%
title(1728, 107, 'Al-Epoxy 20%')
pol_label(1716, 231)
y_label(1264, 577)
ax = loop_axes((1339, 249, 2101, 867), (-4.5, 4.5), (-0.5, 0.5),
               [-4, -3, -2, -1, 0, 1, 2, 3, 4], [-0.4, -0.2, 0.0, 0.2, 0.4], '%d', '%.1f')
dots(ax, E20_blue, P20_blue, C_BLUE, '^', 12.5)
dots(ax, E20_red, P20_red, C_RED, 'o', 10.5)
dots(ax, E20_black, P20_black, C_BLACK, 's', 8.5)
breakdown(1968, 766, 'Breakdown at\n17.5 kV/cm')

# ---- panel: Al-Epoxy 30%
title(518, 1072, 'Al-Epoxy 30%')
pol_label(529, 1164)
y_label(78, 1498)
ax = loop_axes((152, 1182, 914, 1802), (-11, 11), (-0.9, 0.9),
               xt25_10, [-0.70, -0.35, 0.0, 0.35, 0.70], '%.1f', '%.2f')
dots(ax, E30_purple, P30_purple, C_VIOLET, 'o', 8)
dots(ax, E30_navy, P30_navy, '#000070', 'o', 8)
dots(ax, E30_magenta, P30_magenta, C_MAGENTA, 'o', 8)
dots(ax, E30_blue, P30_blue, C_BLUE, 'o', 8)
dots(ax, E30_red, P30_red, C_RED, 'o', 8)
dots(ax, E30_black, P30_black, C_BLACK, 'o', 8)
breakdown(783, 1652, 'Breakdown at\n12.5 kV/cm\u00b2')

# ---- panel: Al-Epoxy 40%
title(1728, 1066, 'Al-Epoxy 40%')
pol_label(1717, 1164)
y_label(1268, 1501)
ax = loop_axes((1344, 1180, 2100, 1794), (-8.5, 8.5), (-0.05, 0.05),
               xt25_75, [-0.04, -0.02, 0.0, 0.02, 0.04], '%.1f', '%.2f')
dots(ax, E40_magenta, P40_magenta, C_MAGENTA, 'o', 7.5)
dots(ax, E40_blue, P40_blue, C_BLUE, 'o', 7.5)
dots(ax, E40_red, P40_red, C_RED, 'o', 7.5)
dots(ax, E40_black, P40_black, C_BLACK, 'o', 7.5)
dots(ax, E40_green, P40_green, C_GREEN, 'o', 7.5)
breakdown(1967, 1700, 'Breakdown at\n20.0 kV/cm')

# ---- panel: Al-Epoxy 50% scatter
title(503, 1952, 'Al-Epoxy 50%')
pol_label(523, 2038)
y_label(78, 2378)
ax = loop_axes((147, 2062, 907, 2680), (-11, 11), (-0.0140, 0.0150),
               xt25_10, [-0.010, -0.005, 0.0, 0.005, 0.010], '%.1f', '%.3f', xaxis_at=0.0005)
series50 = [('black', E50_black, P50_black, C_BLACK), ('red', E50_red, P50_red, C_RED),
            ('blue', E50_blue, P50_blue, C_BLUE), ('magenta', E50_magenta, P50_magenta, C_MAGENTA),
            ('navy', E50_navy, P50_navy, C_NAVY), ('purple', E50_purple, P50_purple, C_PURPLE)]
for name, E, P, c in series50:
    dots(ax, E, P, c, 'o', 8.5)

# ---- panel: Al-Epoxy 50% stacked traces
title(1730, 1952, 'Al-Epoxy 50%')
ax = trace_axes((1342, 2043, 2092, 2652), (-11, 11), (0, 0.081), xt25_10)
for name, E, P, c in series50:
    ax.plot(E, [p + OFF50[name] for p in P], color=c,
            lw=2.6 if name == 'black' else 3.4, solid_capstyle='round')
fig.text(fx(1718), fy(2753), EFIELD, ha='center', va='baseline', fontsize=35, fontweight='bold')

# ---- panel: SCA-Al Epoxy 20% scatter
title(545, 2887, 'SCA-Al Epoxy 20%')
pol_label(519, 2987)
y_label(72, 3318)
ax = loop_axes((141, 2997, 905, 3619), (-8.5, 8.5), (-0.004, 0.004),
               xt25_75, [-0.0030, -0.0015, 0.0, 0.0015, 0.0030], '%.1f', '%.4f')
seriessca = [('black', Esca_black, Psca_black, C_BLACK, 'o'), ('red', Esca_red, Psca_red, C_RED, 'o'),
             ('blue', Esca_blue, Psca_blue, C_BLUE, 's'),
             ('magenta', Esca_magenta, Psca_magenta, C_MAGENTA, '<'),
             ('green', Esca_green, Psca_green, C_GREEN, '>'),
             ('navy', Esca_navy, Psca_navy, C_NAVY, 'v')]
for name, E, P, c, m in seriessca:
    dots(ax, E, P, c, m, 10.5)
breakdown(541, 3356, 'Breakdown at\n20.0 kV/cm')

# ---- panel: SCA-Al Epoxy 20% stacked traces
title(1730, 2887, 'SCA-Al Epoxy 20%')
ax = trace_axes((1347, 2969, 2123, 3599), (-8.5, 8.5), (0, 0.0179), xt25_75)
for name, E, P, c, m in seriessca:
    ax.plot(E, [p + OFFSCA[name] for p in P], color=c, lw=1.0)
fig.text(fx(1735), fy(3720), EFIELD, ha='center', va='baseline', fontsize=35, fontweight='bold')

fig.savefig('out.png', dpi=100, facecolor='white')
